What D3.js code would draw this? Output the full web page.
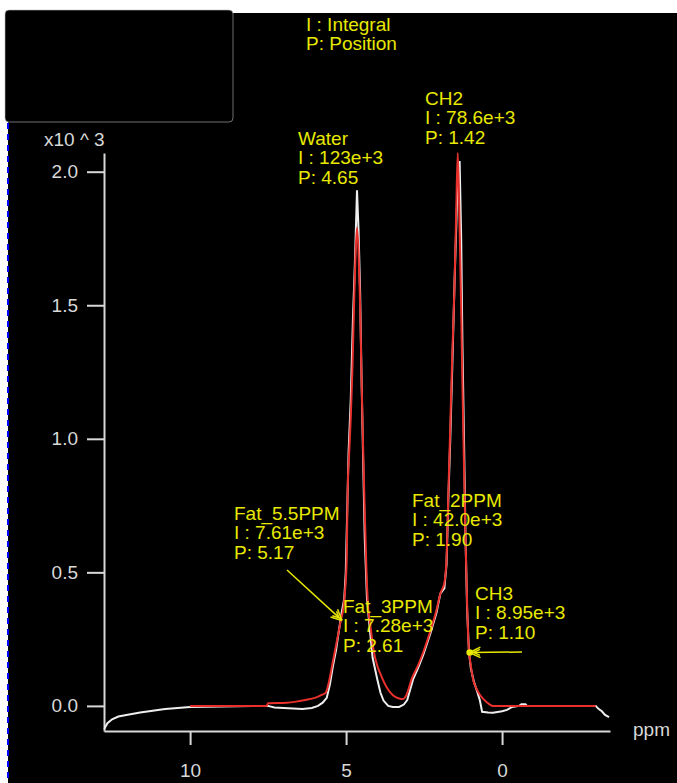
<!DOCTYPE html>
<html>
<head>
<meta charset="utf-8">
<script src="https://cdn.jsdelivr.net/npm/d3@7"></script>
<style>
  html, body { margin: 0; padding: 0; background: #fff; }
  svg text { font-family: "Liberation Sans", Arial, sans-serif; }
</style>
</head>
<body>
<div id="spectrum"></div>
<script>
// measured spectrum (white) - ppm / intensity x10^3
var specPpm = [12.75, 12.65, 12.5, 12.3, 12.0, 11.6, 11.2, 10.8, 10.4, 10.0, 9.0, 8.0, 7.5, 7.3, 7.0, 6.7, 6.4, 6.1, 5.9, 5.75,
  5.62, 5.52, 5.42, 5.32, 5.22, 5.14, 5.06, 5.01, 4.97, 4.92, 4.85, 4.78, 4.72, 4.65, 4.6, 4.55, 4.5, 4.45, 4.4, 4.33,
  4.25, 4.15, 4.0, 3.9, 3.8, 3.65, 3.5, 3.3, 3.15, 3.04, 2.95, 2.85, 2.7, 2.53, 2.3, 2.1, 1.98, 1.85, 1.78, 1.72,
  1.66, 1.6, 1.52, 1.44, 1.36, 1.31, 1.27, 1.22, 1.17, 1.12, 1.06, 1.0, 0.9, 0.8, 0.71, 0.64, 0.45, 0.29, 0.0, -0.16,
  -0.32, -0.55, -0.62, -0.75, -0.8, -3.0, -3.1, -3.2, -3.3, -3.43];
var specVal = [-0.086, -0.065, -0.05, -0.04, -0.033, -0.025, -0.018, -0.012, -0.008, -0.004, -0.002, 0.0, 0.0, -0.006, -0.008, -0.01, -0.012, -0.008, 0.0, 0.012,
  0.03, 0.08, 0.15, 0.21, 0.29, 0.35, 0.4, 0.5, 0.7, 0.95, 1.15, 1.45, 1.65, 1.93, 1.78, 1.55, 1.2, 0.9, 0.62, 0.4,
  0.3, 0.18, 0.1, 0.05, 0.02, 0.0, -0.004, -0.004, 0.005, 0.022, 0.06, 0.1, 0.14, 0.19, 0.27, 0.35, 0.42, 0.44, 0.53, 0.78,
  1.0, 1.25, 1.6, 1.9, 2.04, 1.75, 1.35, 1.0, 0.62, 0.36, 0.2, 0.14, 0.09, 0.055, 0.02, -0.022, -0.025, -0.026, -0.02, -0.015,
  -0.004, 0.0, 0.006, 0.006, 0.0, 0.0, -0.012, -0.02, -0.034, -0.042];

// fitted curve (red)
var fitPpm = [10.0, 7.55, 7.5, 6.9, 6.6, 6.3, 6.0, 5.8, 5.65, 5.55, 5.45, 5.35, 5.25, 5.17, 5.08, 5.02, 4.98, 4.95, 4.9, 4.85,
  4.8, 4.74, 4.7, 4.65, 4.6, 4.55, 4.5, 4.45, 4.4, 4.35, 4.3, 4.22, 4.12, 4.0, 3.9, 3.7, 3.5, 3.3, 3.17, 3.05,
  2.9, 2.7, 2.53, 2.3, 2.1, 1.98, 1.85, 1.78, 1.72, 1.66, 1.6, 1.53, 1.47, 1.42, 1.37, 1.32, 1.27, 1.22, 1.17, 1.12,
  1.07, 1.0, 0.93, 0.8, 0.7, 0.5, 0.3, -3.0];
var fitVal = [0.0, 0.0, 0.01, 0.012, 0.016, 0.022, 0.03, 0.04, 0.05, 0.09, 0.15, 0.21, 0.27, 0.32, 0.37, 0.45, 0.55, 0.8, 0.95, 1.08,
  1.25, 1.52, 1.68, 1.79, 1.7, 1.5, 1.2, 0.95, 0.72, 0.52, 0.38, 0.3, 0.21, 0.15, 0.12, 0.07, 0.04, 0.028, 0.026, 0.045,
  0.1, 0.15, 0.2, 0.28, 0.36, 0.42, 0.46, 0.55, 0.8, 1.05, 1.3, 1.55, 1.85, 2.07, 1.85, 1.55, 1.2, 0.9, 0.62, 0.38,
  0.22, 0.15, 0.1, 0.06, 0.04, 0.015, 0.0, 0.0];

// peak annotations
var peakNames = ["Water", "CH2", "Fat_5.5PPM", "Fat_2PPM", "Fat_3PPM", "CH3"];
var peakIntegrals = ["123e+3", "78.6e+3", "7.61e+3", "42.0e+3", "7.28e+3", "8.95e+3"];
var peakPositions = ["4.65", "1.42", "5.17", "1.90", "2.61", "1.10"];

var yTicks = [0.0, 0.5, 1.0, 1.5, 2.0];
var xTicks = [10, 5, 0];

////////////////basic layout//////////////////
var W = 677, H = 783;
var plot = {left: 104, right: 610, top: 153, bottom: 731};

var svg = d3.select("#spectrum")
  .append("svg")
    .attr("width", W)
    .attr("height", H);

// black panel + legend box
svg.append("rect").attr("x", 8).attr("y", 13).attr("width", W - 8).attr("height", H - 13).attr("fill", "#000");
svg.append("rect").attr("x", 5).attr("y", 10).attr("width", 228).attr("height", 112).attr("rx", 4)
  .attr("fill", "#000").attr("stroke", "#bbb").attr("stroke-width", 0.6);
svg.append("line").attr("x1", 8).attr("x2", 8).attr("y1", 123).attr("y2", H)
  .attr("stroke", "#0000ff").attr("stroke-width", 2).attr("stroke-dasharray", "6,5");

var x = d3.scaleLinear().domain([12.76, -3.46]).range([plot.left, plot.right]);
var y = d3.scaleLinear().domain([-0.094, 2.07]).range([plot.bottom, plot.top]);

var axisColor = "#d8d8d8";

// Y axis
var yAxis = svg.append("g")
  .attr("transform", "translate(" + plot.left + ",0)")
  .call(d3.axisLeft(y).tickValues(yTicks).tickFormat(d3.format(".1f")).tickSize(17).tickSizeOuter(0).tickPadding(9));
// X axis
var xAxis = svg.append("g")
  .attr("transform", "translate(0," + plot.bottom + ")")
  .call(d3.axisBottom(x).tickValues(xTicks).tickSize(14).tickSizeOuter(0).tickPadding(19));

[xAxis, yAxis].forEach(function(a) {
  a.select(".domain").attr("stroke", axisColor).attr("stroke-width", 2);
  a.selectAll(".tick line").attr("stroke", axisColor).attr("stroke-width", 2);
  a.selectAll(".tick text").attr("fill", axisColor).attr("font-size", "19px")
    .style("font-family", "Liberation Sans, Arial, sans-serif");
});

svg.append("text").attr("x", 44).attr("y", 146).attr("fill", axisColor).attr("font-size", "19px").text("x10 ^ 3");
svg.append("text").attr("x", 633).attr("y", 736).attr("fill", axisColor).attr("font-size", "19px").text("ppm");

// curves
var line = d3.line()
  .x(function(d) { return x(d[0]); })
  .y(function(d) { return y(d[1]); });

var spec = specPpm.map(function(p, i) { return [p, specVal[i]]; });
var fit = fitPpm.map(function(p, i) { return [p, fitVal[i]]; });

svg.append("path").datum(spec)
  .attr("d", line.curve(d3.curveLinear))
  .attr("fill", "none").attr("stroke", "#eeeeee").attr("stroke-width", 2);
svg.append("path").datum(fit)
  .attr("d", line.curve(d3.curveMonotoneX))
  .attr("fill", "none").attr("stroke", "#e8302c").attr("stroke-width", 2);

// annotation text
var yellow = "#e8e800";
var labelAt = [[298, 145], [425, 105], [234, 520], [412, 507], [343, 613], [475, 600]];

peakNames.forEach(function(name, i) {
  var t = svg.append("text")
    .attr("x", labelAt[i][0]).attr("y", labelAt[i][1])
    .attr("fill", yellow).attr("font-size", "19px");
  t.append("tspan").attr("x", labelAt[i][0]).text(name);
  t.append("tspan").attr("x", labelAt[i][0]).attr("dy", 19.3).text("I : " + peakIntegrals[i]);
  t.append("tspan").attr("x", labelAt[i][0]).attr("dy", 19.3).text("P: " + peakPositions[i]);
});

// legend lines
svg.append("text").attr("x", 306).attr("y", 31).attr("fill", yellow).attr("font-size", "19px").text("I : Integral");
svg.append("text").attr("x", 306).attr("y", 50).attr("fill", yellow).attr("font-size", "19px").text("P: Position");

// arrows
function arrow(x1, y1, x2, y2, dot) {
  var g = svg.append("g").attr("stroke", yellow).attr("stroke-width", 1.5).attr("fill", "none");
  g.append("line").attr("x1", x1).attr("y1", y1).attr("x2", x2).attr("y2", y2);
  var a = Math.atan2(y2 - y1, x2 - x1);
  [0.45, -0.45].forEach(function(s) {
    [12, 7].forEach(function(len, k) {
      var bx = x2 - (k * 4) * Math.cos(a), by = y2 - (k * 4) * Math.sin(a);
      g.append("line").attr("x1", bx).attr("y1", by)
        .attr("x2", bx - len * Math.cos(a + s)).attr("y2", by - len * Math.sin(a + s));
    });
  });
  if (dot) g.append("circle").attr("cx", x2).attr("cy", y2).attr("r", 2.5).attr("fill", yellow);
}
arrow(287, 570, x(5.13), y(0.32), false);
arrow(522, 652, x(1.04), y(0.2), true);
</script>
</body>
</html>
